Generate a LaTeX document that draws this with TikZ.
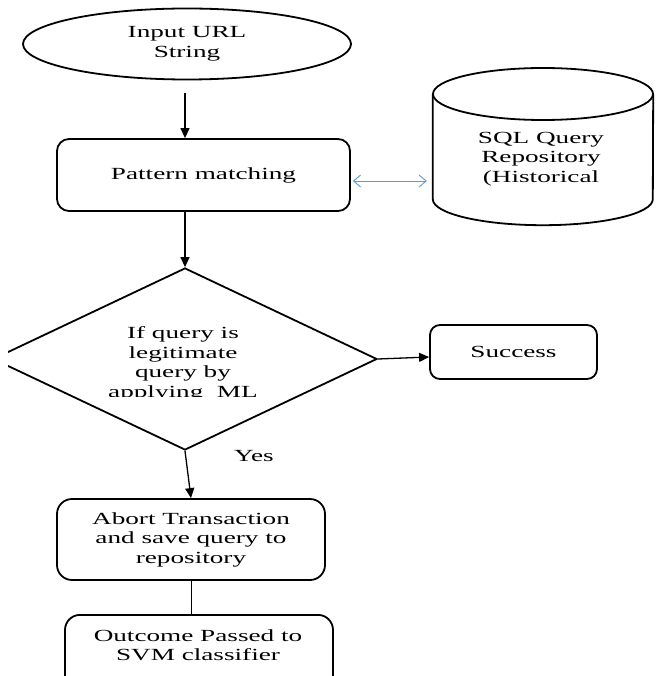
\documentclass[tikz,border=0pt]{standalone}
\usepackage{fontspec}
\setmainfont{Liberation Serif}[FakeStretch=1.6]
\usetikzlibrary{shapes.geometric,arrows.meta,calc}
\definecolor{linkblue}{RGB}{91,155,213}
\begin{document}
\begin{tikzpicture}[x=1pt,y=-1pt,
  font=\fontsize{17}{19.5}\selectfont,
  shapeline/.style={draw, line width=1.8pt},
  box/.style={shapeline, rounded corners=12pt, inner sep=0pt, align=center},
  txt/.style={align=center, inner sep=0pt},
  arr/.style={line width=1.3pt, -{Triangle[length=10pt,width=9pt]}},
  bluearr/.style={draw=linkblue, line width=0.9pt, {Straight Barb[length=7pt,width=12pt]}-{Straight Barb[length=7pt,width=12pt]}},
  ]
\useasboundingbox (0,0) rectangle (655,676);
\fill[white] (0,0) rectangle (655,676);

% start ellipse
\node[ellipse, shapeline, minimum width=328pt, minimum height=71pt, inner sep=0pt, align=center] (inp) at (187,44) {Input URL\\String};

% pattern matching
\node[box, minimum width=293pt, minimum height=72pt] (pm) at (203.5,175) {Pattern matching};

% repository cylinder
\node[minimum width=220pt, minimum height=105pt, inner sep=0pt] (repo) at (543,146.5) {};
\draw[line width=1.8pt] (543,94) ellipse [x radius=110pt, y radius=26pt];
\draw[line width=1.8pt] (repo.north west) -- (repo.south west)
  arc[start angle=180, end angle=360, x radius=110pt, y radius=26pt] -- (repo.north east);
\node[txt] (repotext) at (541,159) {SQL Query\\Repository\\(Historical};

% decision diamond (clipped at the left edge)
\begin{scope}
  \clip (8,250) rectangle (400,465);
  \node[diamond, shapeline, minimum width=384pt, minimum height=182pt, inner sep=0pt] (dia) at (185,359) {};
\end{scope}
\begin{scope}
  \clip (0,300) rectangle (380,396.3);
  \node[txt] (diatext) at (183,364) {If query is\\legitimate\\query by\\applying~~ML};
\end{scope}

% success
\node[box, rounded corners=10pt, minimum width=167pt, minimum height=54pt] (succ) at (513.5,352) {Success};

% yes label
\node[txt] (yes) at (254,456) {Yes};

% abort
\node[box, rounded corners=15pt, minimum width=268pt, minimum height=81pt] (abort) at (191,539.5) {Abort Transaction\\and save query to\\repository};

% outcome (runs off the bottom)
\node[box, rounded corners=15pt, minimum width=268pt, minimum height=100pt, anchor=north] (outcome) at (199,614) {};
\node[txt] (outtext) at (198,645) {Outcome Passed to\\SVM classifier};

% connectors
\coordinate (a1) at ($(inp.south)+(-2,13)$);
\draw[arr] (a1) -- (a1 |- pm.north);
\draw[arr] (a1 |- pm.south) -- (dia.north);
\draw[bluearr] ($(pm.east)+(2,6)$) -- ($(repo.west)+(-6,34.5)$);
\draw[arr] (dia.east) -- ($(succ.west)+(0,5)$);
\draw[arr] (dia.south) -- (abort.north);
\draw[line width=0.8pt] (abort.south) -- (abort.south |- outcome.north);
\end{tikzpicture}
\end{document}
